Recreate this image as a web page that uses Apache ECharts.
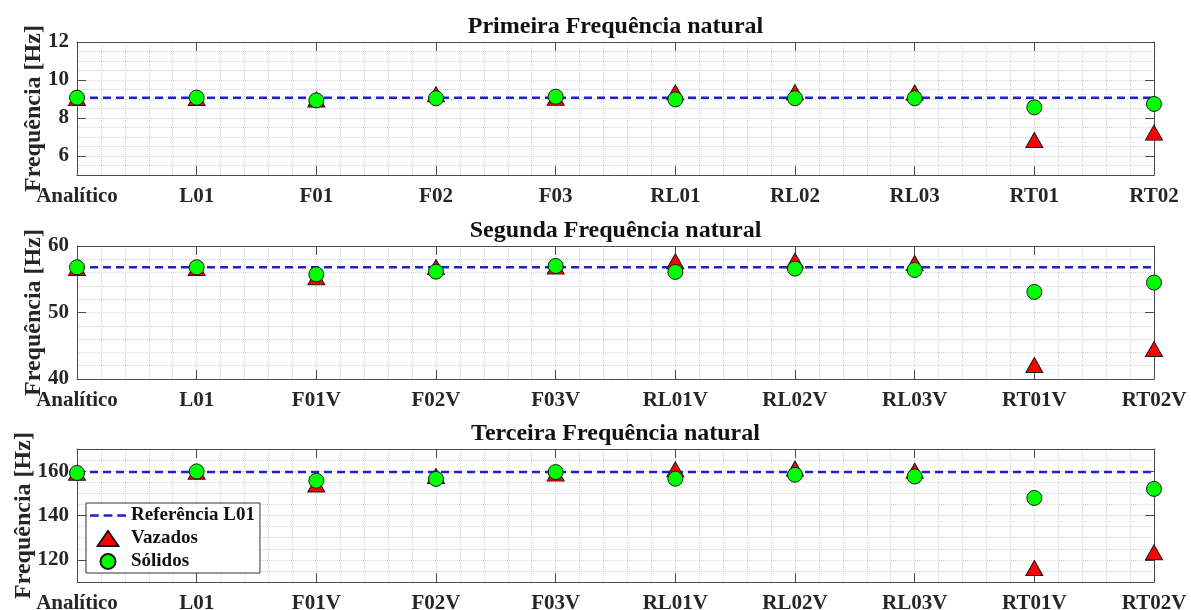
<!DOCTYPE html>
<html>
<head>
<meta charset="utf-8">
<script src="https://cdn.jsdelivr.net/npm/echarts@6/dist/echarts.min.js"></script>
<style>
html,body{margin:0;padding:0;background:#fff;}
#chart{width:1191px;height:610px;}
</style>
</head>
<body>
<div id="chart"></div>
<script>
// ---- data ----
const cats1 = ['Analítico','L01','F01','F02','F03','RL01','RL02','RL03','RT01','RT02'];
const cats2 = ['Analítico','L01','F01V','F02V','F03V','RL01V','RL02V','RL03V','RT01V','RT02V'];
const cats3 = ['Analítico','L01','F01V','F02V','F03V','RL01V','RL02V','RL03V','RT01V','RT02V'];

const vazados1 = [9.05, 9.05, 8.97, 9.25, 9.06, 9.35, 9.36, 9.34, 6.84, 7.23];
const solidos1 = [9.07, 9.07, 8.93, 9.04, 9.12, 8.98, 9.04, 9.04, 8.56, 8.74];
const ref1 = 9.07;

const vazados2 = [56.7, 56.7, 55.3, 56.85, 56.9, 57.7, 57.8, 57.45, 42.1, 44.5];
const solidos2 = [56.8, 56.8, 55.74, 56.14, 57.0, 56.1, 56.6, 56.4, 53.1, 54.5];
const ref2 = 56.8;

const vazados3 = [159.3, 159.7, 154.0, 157.8, 158.9, 160.8, 161.2, 160.2, 116.3, 123.4];
const solidos3 = [159.2, 159.9, 155.7, 156.5, 159.6, 156.6, 158.4, 157.6, 147.9, 152.0];
const ref3 = 159.6;

const yTicks1 = [6, 8, 10, 12];
const yTicks2 = [40, 50, 60];
const yTicks3 = [120, 140, 160];

const titles = ['Primeira Frequência natural', 'Segunda Frequência natural', 'Terceira Frequência natural'];
const yName = 'Frequência [Hz]';
const seriesNames = ['Referência L01', 'Vazados', 'Sólidos'];

// ---- layout / styles ----
const FONT = "'Liberation Serif','Times New Roman',serif";
const TXT = '#262626';
const AX = '#4a4a4a';
const GRIDC = '#d4d4d4';
const gridLeft = 77, gridRight = 37, gridH = 133;
const gridTops = [42, 246, 449];
const titleTops = [15, 219, 422];
const yRanges = [[5, 12, 0.5], [40, 60, 2], [110, 170, 5]];
const nameGaps = [31, 31, 41];

const panels = [
  {cats: cats1, vaz: vazados1, sol: solidos1, ref: ref1, ticks: yTicks1},
  {cats: cats2, vaz: vazados2, sol: solidos2, ref: ref2, ticks: yTicks2},
  {cats: cats3, vaz: vazados3, sol: solidos3, ref: ref3, ticks: yTicks3}
];

const grid = [], xAxis = [], yAxis = [], series = [], title = [];
const axLine = {show: true, onZero: false, lineStyle: {color: AX, width: 1}};
const tickStyle = {color: AX, width: 1};

panels.forEach((p, k) => {
  grid.push({left: gridLeft, right: gridRight, top: gridTops[k], height: gridH,
    containLabel: false, outerBoundsMode: 'none'});
  title.push({
    text: titles[k], left: (gridLeft + 1191 - gridRight) / 2, top: titleTops[k], textAlign: 'center', padding: 0,
    textStyle: {fontFamily: FONT, fontWeight: 'bold', fontSize: 24, color: '#111'}
  });
  const nCat = p.cats.length - 1;
  // bottom x axis with labels
  xAxis.push({
    type: 'value', gridIndex: k, position: 'bottom', min: 0, max: nCat, interval: 1,
    axisLine: axLine,
    axisTick: {show: true, inside: true, length: 9, lineStyle: tickStyle},
    axisLabel: {show: true, margin: 11, formatter: v => p.cats[Math.round(v)], hideOverlap: false,
      fontFamily: FONT, fontWeight: 'bold', fontSize: 21, color: TXT},
    splitLine: {show: false}
  });
  // top x axis (box)
  xAxis.push({
    type: 'value', gridIndex: k, position: 'top', min: 0, max: nCat, interval: 1,
    axisLine: axLine,
    axisTick: {show: true, inside: true, length: 9, lineStyle: tickStyle},
    axisLabel: {show: false},
    splitLine: {show: false}
  });
  // x grid lines axis
  xAxis.push({
    type: 'value', gridIndex: k, position: 'bottom', min: 0, max: nCat, interval: 0.2,
    axisLine: {show: false}, axisTick: {show: false}, axisLabel: {show: false},
    splitLine: {show: true, lineStyle: {color: GRIDC, type: 'dotted', width: 1}}
  });
  const [mn, mx, iv] = yRanges[k];
  yAxis.push({
    type: 'value', gridIndex: k, position: 'left', min: mn, max: mx, interval: iv,
    name: yName, nameLocation: 'middle', nameGap: nameGaps[k], nameRotate: 90, nameMoveOverlap: false,
    nameTextStyle: {fontFamily: FONT, fontWeight: 'bold', fontSize: 24, color: TXT},
    axisLine: axLine,
    axisTick: {show: true, inside: true, length: 9, customValues: p.ticks, lineStyle: tickStyle},
    axisLabel: {show: true, customValues: p.ticks, margin: 8,
      fontFamily: FONT, fontWeight: 'bold', fontSize: 21, color: TXT},
    splitLine: {show: false}
  });
  yAxis.push({
    type: 'value', gridIndex: k, position: 'right', min: mn, max: mx, interval: iv,
    axisLine: axLine,
    axisTick: {show: true, inside: true, length: 9, customValues: p.ticks, lineStyle: tickStyle},
    axisLabel: {show: false},
    splitLine: {show: false}
  });
  yAxis.push({
    type: 'value', gridIndex: k, position: 'left', min: mn, max: mx, interval: iv,
    axisLine: {show: false}, axisTick: {show: false}, axisLabel: {show: false},
    splitLine: {show: true, lineStyle: {color: GRIDC, type: 'dotted', width: 1}}
  });
  series.push({
    name: seriesNames[0], type: 'line', xAxisIndex: 3 * k, yAxisIndex: 3 * k,
    data: [[0, p.ref], [nCat, p.ref]], symbol: 'none', z: 2, silent: true,
    lineStyle: {color: '#1f1fcf', width: 2.5, type: [8, 5]},
    itemStyle: {color: '#1f1fcf'}
  });
  series.push({
    name: seriesNames[1], type: 'scatter', xAxisIndex: 3 * k, yAxisIndex: 3 * k,
    data: p.vaz.map((v, i) => [i, v]), symbol: 'triangle', symbolSize: [17, 15], z: 3, clip: false,
    itemStyle: {color: '#ff0000', borderColor: '#1a1a1a', borderWidth: 1, opacity: 1}
  });
  series.push({
    name: seriesNames[2], type: 'scatter', xAxisIndex: 3 * k, yAxisIndex: 3 * k,
    data: p.sol.map((v, i) => [i, v]), symbol: 'circle', symbolSize: 15, z: 4, clip: false,
    itemStyle: {color: '#00ff00', borderColor: '#1a1a1a', borderWidth: 1, opacity: 1}
  });
});

const option = {
  animation: false,
  backgroundColor: '#ffffff',
  title: title,
  grid: grid,
  xAxis: xAxis,
  yAxis: yAxis,
  legend: {
    data: [
      {name: seriesNames[0], icon: 'path://M0,0h9v2.6h-9z M14,0h9v2.6h-9z M28,0h9v2.6h-9z',
        itemStyle: {color: '#1f1fcf', borderWidth: 0}},
      {name: seriesNames[1], icon: 'path://M9,0L18,13L0,13Z'},
      {name: seriesNames[2], icon: 'circle'}
    ],
    orient: 'vertical', left: 86, top: 503, symbolKeepAspect: true,
    padding: [3, 5, 2, 4], itemGap: 4, itemWidth: 36, itemHeight: 15,
    backgroundColor: '#ffffff', borderColor: '#333', borderWidth: 1, borderRadius: 0,
    selectedMode: false,
    textStyle: {fontFamily: FONT, fontWeight: 'bold', fontSize: 19, color: '#111', lineHeight: 19}
  },
  series: series
};

const chart = echarts.init(document.getElementById('chart'), null, {renderer: 'canvas'});
chart.setOption(option);
</script>
</body>
</html>
